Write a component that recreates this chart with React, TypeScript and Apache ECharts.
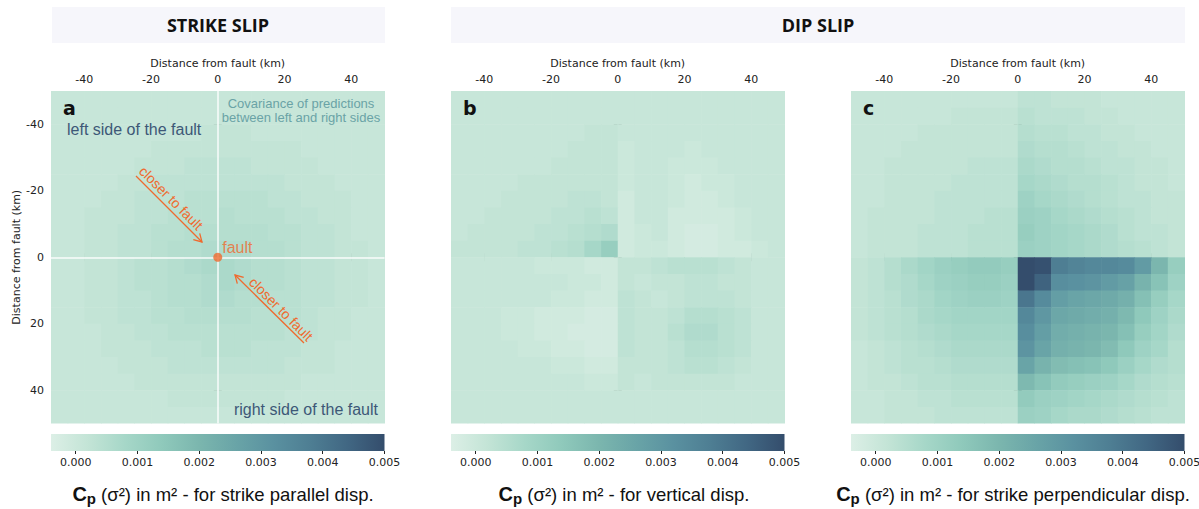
import { useEffect, useRef } from 'react';
import * as echarts from 'echarts';

// cell centres (km) of the covariance grids
const X_CENTERS_KM = [-47.5, -42.5, -37.5, -32.5, -27.5, -22.5, -17.5, -12.5, -7.5, -2.5, 2.5, 7.5, 12.5, 17.5, 22.5, 27.5, 32.5, 37.5, 42.5, 47.5];
const Y_CENTERS_KM = [-47.5, -42.5, -37.5, -32.5, -27.5, -22.5, -17.5, -12.5, -7.5, -2.5, 2.5, 7.5, 12.5, 17.5, 22.5, 27.5, 32.5, 37.5, 42.5, 47.5];
const CELL_KM = 5;

// values in units of 1e-4 m² ; rows from y = -47.5 (top) to 47.5 (bottom)
const STRIKE_PARALLEL = [
  [1, 1, 1, 1, 1, 1, 1, 1, 1, 1, 1, 1, 1, 1, 1, 1, 1, 1, 1, 1],
  [1, 1, 1, 1, 1, 1, 1, 1, 1, 1, 1, 1, 1, 1, 1, 1, 1, 1, 1, 1],
  [1, 1, 1, 1, 1, 1, 1, 1, 1, 2, 2, 2, 1, 1, 1, 1, 1, 1, 1, 1],
  [1, 1, 1, 1, 1, 1, 2, 2, 2, 2, 2, 2, 2, 2, 2, 1, 1, 1, 1, 1],
  [1, 1, 1, 1, 1, 2, 2, 2, 3, 3, 3, 3, 2, 2, 2, 2, 1, 1, 1, 1],
  [1, 1, 1, 1, 2, 2, 3, 3, 3, 3, 3, 3, 3, 3, 2, 2, 2, 1, 1, 1],
  [1, 1, 1, 2, 2, 3, 3, 3, 4, 4, 4, 4, 4, 3, 3, 2, 2, 2, 1, 1],
  [1, 1, 2, 2, 2, 3, 3, 4, 4, 4, 5, 4, 4, 4, 3, 3, 2, 2, 1, 1],
  [1, 1, 2, 2, 3, 3, 4, 4, 5, 5, 5, 5, 5, 4, 4, 3, 3, 2, 1, 1],
  [1, 1, 2, 2, 3, 3, 4, 5, 5, 6, 6, 6, 5, 5, 4, 3, 3, 2, 2, 1],
  [1, 1, 2, 2, 3, 4, 4, 5, 6, 7, 7, 6, 5, 5, 4, 3, 3, 2, 2, 1],
  [1, 1, 2, 2, 3, 4, 4, 5, 5, 6, 7, 6, 5, 5, 4, 3, 3, 2, 2, 1],
  [1, 1, 2, 2, 3, 3, 4, 5, 5, 6, 6, 5, 5, 4, 4, 3, 3, 2, 2, 1],
  [1, 1, 2, 2, 3, 3, 4, 4, 5, 5, 5, 5, 4, 4, 4, 3, 2, 2, 1, 1],
  [1, 1, 1, 2, 2, 3, 3, 4, 4, 4, 4, 4, 4, 4, 3, 3, 2, 2, 1, 1],
  [1, 1, 1, 2, 2, 2, 3, 3, 3, 4, 4, 4, 3, 3, 3, 2, 2, 1, 1, 1],
  [1, 1, 1, 1, 2, 2, 2, 3, 3, 3, 3, 3, 3, 3, 2, 2, 2, 1, 1, 1],
  [1, 1, 1, 1, 1, 2, 2, 2, 2, 2, 2, 2, 2, 2, 2, 1, 1, 1, 1, 1],
  [1, 1, 1, 1, 1, 1, 1, 2, 2, 2, 2, 2, 2, 2, 1, 1, 1, 1, 1, 1],
  [1, 1, 1, 1, 1, 1, 1, 1, 1, 1, 1, 1, 1, 1, 1, 1, 1, 1, 1, 1],
];

const VERTICAL = [
  [1, 1, 1, 1, 1, 1, 1, 1, 1, 1, 1, 1, 1, 1, 1, 1, 1, 1, 1, 1],
  [1, 1, 1, 1, 1, 1, 1, 1, 1, 1, 1, 1, 1, 1, 1, 1, 1, 1, 1, 1],
  [1, 1, 1, 1, 1, 1, 1, 1, 2, 2, 1, 1, 1, 1, 1, 1, 1, 1, 1, 1],
  [1, 1, 1, 1, 1, 1, 1, 2, 2, 2, 0, 1, 1, 1, 0, 1, 1, 1, 1, 1],
  [1, 1, 1, 1, 1, 1, 2, 2, 2, 2, 0, 1, 1, 0, 0, 0, 1, 1, 1, 1],
  [1, 1, 1, 1, 2, 2, 2, 2, 2, 2, 0, 1, 1, 0, -1, 0, 0, 1, 1, 1],
  [1, 1, 1, 2, 2, 2, 2, 3, 3, 2, -1, 1, 1, 0, -1, -1, 0, 1, 1, 1],
  [1, 1, 2, 2, 2, 2, 3, 3, 4, 3, -1, 1, 1, -1, -1, -1, -1, 0, 1, 1],
  [1, 2, 2, 2, 2, 3, 3, 4, 5, 6, -1, 0, 1, -1, -2, -2, -1, 0, 1, 1],
  [2, 2, 2, 2, 3, 3, 4, 5, 8, 12, -1, 0, 0, -1, -2, -2, -1, -1, 0, 1],
  [1, 1, 1, 1, 1, 0, 0, 0, -1, -1, 2, 2, 3, 4, 4, 4, 3, 2, 1, 1],
  [1, 1, 1, 1, 1, 1, 1, 0, 0, -1, 2, 1, 2, 2, 3, 3, 2, 2, 1, 1],
  [1, 1, 1, 1, 1, 1, 0, 0, -1, -1, 3, 2, 1, 2, 3, 3, 3, 2, 1, 1],
  [1, 1, 1, 0, 0, -1, -1, -1, -2, -2, 3, 2, 2, 3, 5, 5, 4, 3, 1, 1],
  [1, 1, 1, 0, 0, -1, -1, -2, -2, -2, 3, 2, 2, 4, 6, 6, 4, 3, 1, 1],
  [1, 1, 1, 1, 0, 0, -1, -1, -2, -2, 3, 2, 2, 3, 5, 5, 4, 3, 1, 1],
  [1, 1, 1, 1, 1, 1, 0, 0, -1, -1, 2, 2, 2, 3, 4, 4, 3, 2, 1, 1],
  [1, 1, 1, 1, 1, 1, 1, 1, 0, 0, 2, 1, 2, 2, 2, 2, 2, 1, 1, 1],
  [1, 1, 1, 1, 1, 1, 1, 1, 1, 1, 1, 1, 1, 1, 1, 1, 1, 1, 1, 1],
  [1, 1, 1, 1, 1, 1, 1, 1, 1, 1, 1, 1, 1, 1, 1, 1, 1, 1, 1, 1],
];

const STRIKE_PERPENDICULAR = [
  [1, 1, 1, 1, 1, 1, 1, 1, 1, 1, 3, 3, 2, 2, 2, 1, 1, 1, 1, 1],
  [1, 1, 1, 1, 1, 1, 2, 2, 2, 2, 4, 3, 3, 3, 2, 2, 1, 1, 1, 1],
  [1, 1, 1, 1, 2, 2, 2, 2, 2, 2, 5, 4, 4, 3, 3, 2, 2, 1, 1, 1],
  [1, 1, 1, 2, 2, 2, 2, 2, 2, 2, 6, 5, 5, 4, 3, 3, 2, 2, 1, 1],
  [1, 1, 2, 2, 2, 2, 2, 3, 3, 3, 7, 6, 5, 5, 4, 3, 3, 2, 2, 1],
  [1, 1, 2, 2, 2, 2, 3, 3, 3, 3, 8, 7, 6, 5, 5, 4, 3, 2, 2, 1],
  [1, 1, 2, 2, 2, 3, 3, 3, 3, 3, 10, 8, 7, 6, 5, 4, 3, 3, 2, 2],
  [1, 2, 2, 2, 2, 3, 3, 3, 4, 4, 11, 10, 8, 7, 6, 5, 4, 3, 2, 2],
  [1, 2, 2, 2, 3, 3, 3, 4, 4, 4, 12, 10, 9, 8, 7, 6, 4, 3, 3, 2],
  [1, 2, 2, 2, 3, 3, 3, 4, 4, 4, 11, 10, 9, 8, 7, 6, 5, 4, 3, 2],
  [2, 3, 5, 7, 9, 11, 12, 13, 13, 12, 50, 49, 38, 36, 35, 35, 34, 29, 20, 12],
  [2, 3, 5, 6, 8, 10, 11, 12, 12, 11, 50, 45, 33, 32, 31, 29, 27, 21, 16, 10],
  [2, 3, 4, 6, 7, 9, 10, 11, 11, 10, 40, 34, 28, 26, 25, 24, 22, 17, 12, 8],
  [2, 3, 4, 5, 7, 8, 9, 9, 9, 9, 35, 30, 25, 24, 23, 22, 19, 14, 10, 7],
  [2, 3, 4, 5, 6, 7, 8, 8, 8, 8, 33, 28, 23, 22, 21, 20, 17, 12, 9, 6],
  [1, 2, 3, 4, 5, 6, 7, 7, 7, 7, 31, 26, 22, 21, 20, 18, 14, 10, 8, 5],
  [1, 2, 3, 4, 4, 5, 6, 6, 6, 6, 26, 21, 18, 17, 16, 14, 11, 8, 6, 5],
  [1, 2, 2, 3, 4, 4, 5, 5, 5, 5, 19, 16, 13, 12, 11, 10, 8, 6, 5, 4],
  [1, 1, 2, 2, 3, 3, 4, 4, 4, 4, 13, 11, 10, 9, 8, 7, 6, 5, 4, 3],
  [1, 1, 2, 2, 2, 3, 3, 3, 3, 3, 11, 10, 8, 7, 7, 6, 5, 4, 3, 3],
];

const AXIS_TICKS = [-40, -20, 0, 20, 40];
const AXIS_MIN = -50;
const AXIS_MAX = 50;
const CB_TICKS = [0, 0.001, 0.002, 0.003, 0.004, 0.005];
const CB_MIN = -0.0004;
const CB_MAX = 0.005;
const CMAP = ['#dcefe6', '#c3e4d6', '#a6d7c8', '#8fc9bb', '#7bb6ae', '#69a4a7', '#5a91a0', '#4e7e93', '#416783', '#344d6c'];
const FAULT_POINT = [0, 0];

const PANEL_LETTERS = ['a', 'b', 'c'];
const PANEL_VALUES = [STRIKE_PARALLEL, VERTICAL, STRIKE_PERPENDICULAR];
const CAPTIONS = [' (σ²) in m² - for strike parallel disp.', ' (σ²) in m² - for vertical disp.', ' (σ²) in m² - for strike perpendicular disp.'];

// layout
const LEFTS = [51, 451, 851];
const TOP = 91;
const W = 333.5;
const H = 332.5;
const CB_TOP = 434;
const CB_H = 17;
const CAPTION_X = [223, 624, 1013];
const TICK_FONT = 'DejaVu Sans';
const ANN_FONT = 'Liberation Sans';
const ORANGE = '#ef6a2e';

function gridData(values: number[][]) {
  const out: number[][] = [];
  values.forEach((row, j) => row.forEach((v, i) => out.push([X_CENTERS_KM[i], Y_CENTERS_KM[j], v / 10000])));
  return out;
}

const renderCell = (_params: any, api: any) => {
  const x = api.value(0);
  const y = api.value(1);
  const p0 = api.coord([x - CELL_KM / 2, y - CELL_KM / 2]);
  const p1 = api.coord([x + CELL_KM / 2, y + CELL_KM / 2]);
  return {
    type: 'rect',
    shape: {
      x: Math.min(p0[0], p1[0]),
      y: Math.min(p0[1], p1[1]),
      width: Math.abs(p1[0] - p0[0]) + 0.6,
      height: Math.abs(p1[1] - p0[1]) + 0.6,
    },
    style: { fill: api.visual('color') },
  };
};

function buildOption() {
  const tickStyle = { color: '#333', width: 1 };
  const grids: any[] = [];
  LEFTS.forEach((l) => grids.push({ left: l, top: TOP, width: W, height: H, outerBoundsMode: 'none' }));
  LEFTS.forEach((l) => grids.push({ left: l, top: CB_TOP, width: W, height: CB_H, outerBoundsMode: 'none' }));

  const xAxes: any[] = [];
  const yAxes: any[] = [];
  LEFTS.forEach((_, i) => {
    xAxes.push({
      gridIndex: i, type: 'value', position: 'top', min: AXIS_MIN, max: AXIS_MAX,
      axisLine: { show: false },
      axisTick: { show: true, customValues: AXIS_TICKS, length: 4, lineStyle: tickStyle },
      axisLabel: { show: true, customValues: AXIS_TICKS, fontSize: 11, color: '#222', fontFamily: TICK_FONT, margin: 6 },
      splitLine: { show: false },
      name: 'Distance from fault (km)', nameLocation: 'middle', nameGap: 19,
      nameTextStyle: { fontSize: 11, color: '#222', fontFamily: TICK_FONT },
    });
  });
  LEFTS.forEach((_, i) => {
    xAxes.push({
      gridIndex: i, type: 'value', position: 'bottom', min: AXIS_MIN, max: AXIS_MAX,
      axisLine: { show: false },
      axisTick: { show: true, customValues: AXIS_TICKS, length: 4, lineStyle: tickStyle },
      axisLabel: { show: false, customValues: AXIS_TICKS },
      splitLine: { show: false },
    });
  });
  LEFTS.forEach((_, i) => {
    xAxes.push({
      gridIndex: 3 + i, type: 'value', position: 'bottom', min: CB_MIN, max: CB_MAX,
      axisLine: { show: false },
      axisTick: { show: true, customValues: CB_TICKS, length: 3, lineStyle: { color: '#222', width: 1 } },
      axisLabel: { show: true, customValues: CB_TICKS, fontSize: 11, color: '#222', fontFamily: TICK_FONT, margin: 6, formatter: (v: number) => v.toFixed(3) },
      splitLine: { show: false },
    });
  });
  LEFTS.forEach((_, i) => {
    yAxes.push({
      gridIndex: i, type: 'value', position: 'left', inverse: true, min: AXIS_MIN, max: AXIS_MAX,
      axisLine: { show: false },
      axisTick: { show: true, customValues: AXIS_TICKS, length: 4, lineStyle: tickStyle },
      axisLabel: { show: i === 0, customValues: AXIS_TICKS, fontSize: 11, color: '#222', fontFamily: TICK_FONT, margin: 7 },
      splitLine: { show: false },
      name: i === 0 ? 'Distance from fault (km)' : '', nameLocation: 'middle', nameGap: 29,
      nameTextStyle: { fontSize: 11, color: '#222', fontFamily: TICK_FONT },
    });
  });
  LEFTS.forEach((_, i) => {
    yAxes.push({
      gridIndex: i, type: 'value', position: 'right', inverse: true, min: AXIS_MIN, max: AXIS_MAX,
      axisLine: { show: false },
      axisTick: { show: true, customValues: AXIS_TICKS, length: 4, lineStyle: tickStyle },
      axisLabel: { show: false, customValues: AXIS_TICKS },
      splitLine: { show: false },
    });
  });
  LEFTS.forEach((_, i) => {
    yAxes.push({ gridIndex: 3 + i, type: 'value', show: false, min: 0, max: 1 });
  });

  const series: any[] = PANEL_VALUES.map((vals, i) => ({
    type: 'custom',
    xAxisIndex: i,
    yAxisIndex: i,
    clip: true,
    dimensions: ['x', 'y', 'cp'],
    encode: { x: 0, y: 1 },
    data: gridData(vals),
    renderItem: renderCell,
    silent: true,
    z: 1,
    ...(i === 0
      ? {
          markLine: {
            silent: true,
            symbol: 'none',
            label: { show: false },
            lineStyle: { color: '#ffffff', width: 1.5, type: 'solid', opacity: 0.9 },
            data: [{ xAxis: FAULT_POINT[0] }, { yAxis: FAULT_POINT[1] }],
            z: 5,
          },
        }
      : {}),
  }));
  series.push({
    type: 'scatter',
    xAxisIndex: 0,
    yAxisIndex: 0,
    data: [FAULT_POINT],
    symbolSize: 9,
    itemStyle: { color: ORANGE },
    z: 10,
    silent: true,
    label: {
      show: true, formatter: 'fault', position: [9, -5], align: 'left', verticalAlign: 'middle',
      color: ORANGE, fontSize: 16, fontFamily: ANN_FONT,
    },
  });

  const gradient = new echarts.graphic.LinearGradient(0, 0, 1, 0, CMAP.map((c, k) => ({ offset: k / (CMAP.length - 1), color: c })));

  const arrow = (pts: number[][], head: number[][]) => [
    { type: 'polyline', z: 100, shape: { points: pts }, style: { stroke: ORANGE, lineWidth: 1.3, fill: null } },
    { type: 'polyline', z: 100, shape: { points: head }, style: { stroke: ORANGE, lineWidth: 1.3, fill: null } },
  ];

  const graphic: any[] = [
    { type: 'rect', shape: { x: 52, y: 7, width: 333, height: 36 }, style: { fill: '#f6f6fb' } },
    { type: 'rect', shape: { x: 451, y: 7, width: 734, height: 36 }, style: { fill: '#f6f6fb' } },
    { type: 'text', x: 218, y: 25, style: { text: 'STRIKE SLIP', fontSize: 18, fontWeight: 'bold', fontFamily: 'Open Sans', fill: '#111', align: 'center', verticalAlign: 'middle' } },
    { type: 'text', x: 818, y: 25, style: { text: 'DIP SLIP', fontSize: 18, fontWeight: 'bold', fontFamily: 'Open Sans', fill: '#111', align: 'center', verticalAlign: 'middle' } },
  ];
  LEFTS.forEach((l, i) => {
    graphic.push({ type: 'text', z: 100, x: l + 12, y: 108, style: { text: PANEL_LETTERS[i], fontSize: 19, fontWeight: 'bold', fontFamily: TICK_FONT, fill: '#111', align: 'left', verticalAlign: 'middle' } });
    graphic.push({ type: 'rect', shape: { x: l, y: CB_TOP, width: W, height: CB_H }, style: { fill: gradient } });
    graphic.push({
      type: 'text', x: CAPTION_X[i], y: 494,
      style: {
        text: '{c|C}{p|p}{t|' + CAPTIONS[i] + '}', align: 'center', verticalAlign: 'middle',
        rich: {
          c: { fontSize: 20, fontWeight: 'bold', fontFamily: ANN_FONT, fill: '#111' },
          p: { fontSize: 15, fontWeight: 'bold', fontFamily: ANN_FONT, fill: '#111', padding: [9, 0, 0, 0] },
          t: { fontSize: 18.5, fontFamily: ANN_FONT, fill: '#111' },
        },
      },
    });
  });
  graphic.push(
    { type: 'text', z: 100, x: 67, y: 129, style: { text: 'left side of the fault', fontSize: 16, fontFamily: ANN_FONT, fill: '#3d5877', align: 'left', verticalAlign: 'middle' } },
    { type: 'text', z: 100, x: 378, y: 409, style: { text: 'right side of the fault', fontSize: 16, fontFamily: ANN_FONT, fill: '#3d5877', align: 'right', verticalAlign: 'middle' } },
    { type: 'text', z: 100, x: 301, y: 103, style: { text: 'Covariance of predictions', fontSize: 13, fontFamily: ANN_FONT, fill: '#6aa3a6', align: 'center', verticalAlign: 'middle' } },
    { type: 'text', z: 100, x: 301, y: 117, style: { text: 'between left and right sides', fontSize: 13, fontFamily: ANN_FONT, fill: '#6aa3a6', align: 'center', verticalAlign: 'middle' } },
    { type: 'text', z: 100, x: 171, y: 198, rotation: -Math.PI / 4, style: { text: 'closer to fault', fontSize: 14, fontFamily: ANN_FONT, fill: ORANGE, align: 'center', verticalAlign: 'middle' } },
    { type: 'text', z: 100, x: 281, y: 309, rotation: -Math.PI / 4, style: { text: 'closer to fault', fontSize: 14, fontFamily: ANN_FONT, fill: ORANGE, align: 'center', verticalAlign: 'middle' } },
    ...arrow([[136, 176], [202, 242]], [[199.7, 233.3], [202, 242], [193.3, 239.7]]),
    ...arrow([[304, 343], [235, 275]], [[237.3, 283.7], [235, 275], [243.7, 277.3]]),
  );

  return {
    animation: false,
    backgroundColor: '#ffffff',
    grid: grids,
    xAxis: xAxes,
    yAxis: yAxes,
    visualMap: [{ type: 'continuous', show: false, min: CB_MIN, max: CB_MAX, dimension: 2, seriesIndex: [0, 1, 2], inRange: { color: CMAP } }],
    series,
    graphic,
  };
}

export default function App() {
  const ref = useRef<HTMLDivElement>(null);
  useEffect(() => {
    if (!ref.current) return;
    const chart = echarts.init(ref.current, undefined, { renderer: 'svg' });
    chart.setOption(buildOption() as any);
    return () => chart.dispose();
  }, []);
  return <div ref={ref} style={{ position: 'fixed', left: 0, top: 0, width: 1199, height: 509 }} />;
}
